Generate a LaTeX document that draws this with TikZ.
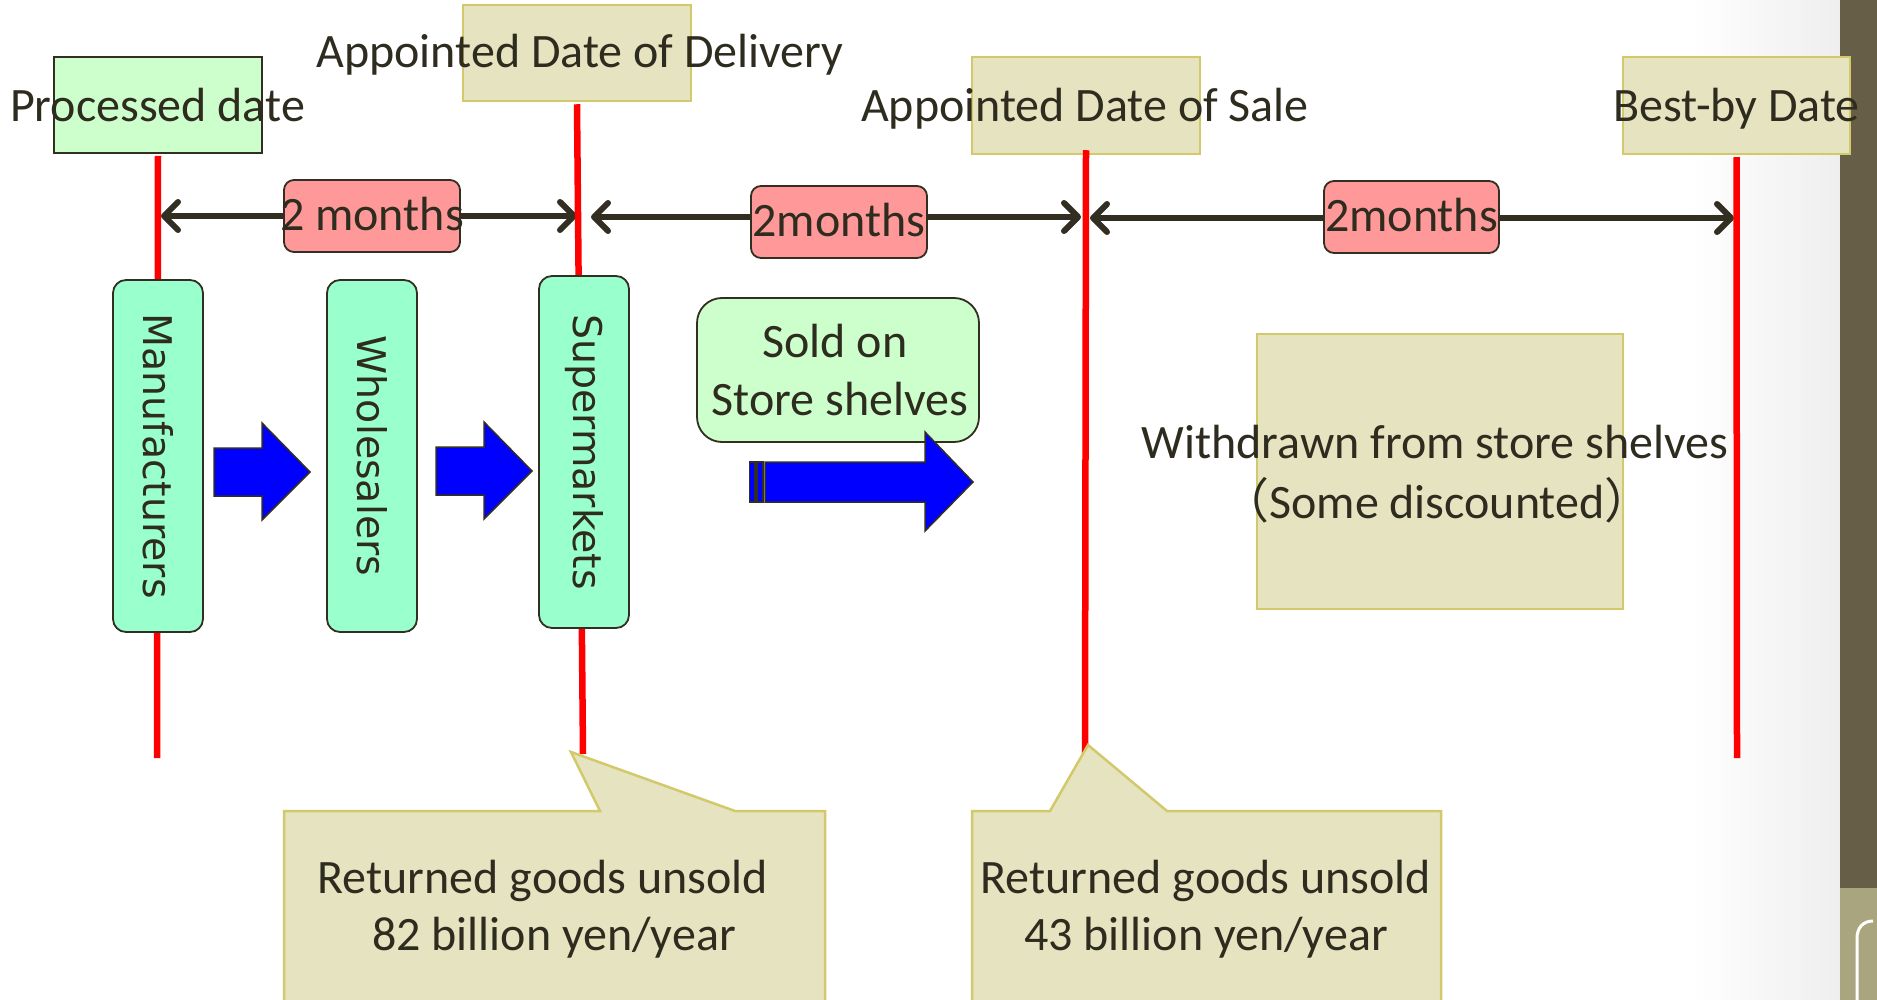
\documentclass[tikz,border=0pt]{standalone}
\usepackage{fontspec}
\setmainfont{Carlito}
\newfontfamily\vfont{DejaVu Sans}
\newfontfamily\cjk{Noto Sans CJK JP}
\usetikzlibrary{arrows.meta}
\definecolor{txt}{RGB}{46,43,31}
\definecolor{dk}{RGB}{51,46,34}
\definecolor{palegreen}{HTML}{CCFFCC}
\definecolor{mint}{HTML}{99FFCC}
\definecolor{pinkc}{HTML}{FF9999}
\definecolor{khaki}{HTML}{E6E3C1}
\definecolor{khakiborder}{HTML}{D3C96B}
\definecolor{barc}{HTML}{675E47}
\definecolor{barlight}{HTML}{A9A67F}
\definecolor{greyb}{HTML}{EEEEEE}
\tikzset{
  lbl/.style={text=txt, font=\fontsize{48}{58}\selectfont, inner sep=0pt, anchor=base},
  datebox/.style={draw=khakiborder, fill=khaki, line width=2.5pt, inner sep=0pt},
  procbox/.style={draw=dk, fill=palegreen, line width=1.8pt, inner sep=0pt},
  pinkbox/.style={draw=dk, fill=pinkc, line width=1.8pt, rounded corners=10pt, inner sep=0pt},
  vbox/.style={draw=dk, fill=mint, line width=1.8pt, rounded corners=13pt, inner sep=0pt},
  vtext/.style={text=txt, font=\vfont\fontsize{39.5}{47}\selectfont, rotate=-90, inner sep=0pt},
  soldbox/.style={draw=dk, fill=palegreen, line width=1.8pt, rounded corners=25pt, inner sep=0pt},
  redline/.style={draw=red, line width=6.5pt},
  dblarrow/.style={draw=dk, line width=6pt, {Straight Barb[length=14pt,width=28pt,round]}-{Straight Barb[length=14pt,width=28pt,round]}},
  bluearrow/.style={fill=blue, draw=dk, line width=1.5pt, line join=miter},
  callout/.style={fill=khaki, draw=khakiborder, line width=2.5pt}
}
\begin{document}
\begin{tikzpicture}[x=1pt,y=-1pt]
\useasboundingbox (0,0) rectangle (1877,1000);
\clip (0,0) rectangle (1877,1000);
% background
\fill[white] (0,0) rectangle (1877,1000);
\shade[left color=white, right color=greyb] (1690,0) rectangle (1841,1000);
\fill[barc] (1840,0) rectangle (1877,888);
\fill[barlight] (1840,888) rectangle (1877,1000);
\draw[white, line width=3pt] (1873,921) .. controls (1863,921) and (1857,928) .. (1857,938) -- (1857,1005);

% coordinates
\coordinate (r1b) at (157,758);
\coordinate (r2b) at (583,754);
\coordinate (r3b) at (1085,754);
\coordinate (r4b) at (1737,758);
\coordinate (a1l) at (161,216);
\coordinate (a1r) at (577,216);
\coordinate (a2l) at (591,217);
\coordinate (a2r) at (1081,217);
\coordinate (a3l) at (1090,218);
\coordinate (a3r) at (1734,218);

% double arrows
\draw[dblarrow] (a1l) -- (a1r);
\draw[dblarrow] (a2l) -- (a2r);
\draw[dblarrow] (a3l) -- (a3r);

% date boxes
\node[procbox, minimum width=208pt, minimum height=96pt] (proc) at (158,105) {};
\node[datebox, minimum width=228pt, minimum height=96pt] (deliv) at (577,53) {};
\node[datebox, minimum width=228pt, minimum height=97pt] (sale) at (1086,105.5) {};
\node[datebox, minimum width=227pt, minimum height=97pt] (best) at (1736.5,105.5) {};

% red lines
\draw[redline] ([yshift=-2pt]proc.south) -- (r1b);
\draw[redline] ([yshift=-2pt]deliv.south) -- (r2b);
\draw[redline] ([yshift=5pt]sale.south) -- (r3b);
\draw[redline] ([yshift=-2pt]best.south) -- (r4b);

% date labels
\node[lbl] (tproc) at (157.5,122) {Processed date};
\node[lbl] (tdeliv) at (580,68) {Appointed Date of Delivery};
\node[lbl] (tsale) at (1085,122) {Appointed Date of Sale};
\node[lbl] (tbest) at (1736.5,122) {Best-by Date};

% period labels
\node[pinkbox, minimum width=176pt, minimum height=72pt] (p1) at (372,216) {};
\node[pinkbox, minimum width=176pt, minimum height=72pt] (p2) at (839,222) {};
\node[pinkbox, minimum width=175pt, minimum height=72pt] (p3) at (1411.5,217) {};
\node[lbl] (tp1) at (372,231) {2 months};
\node[lbl] (tp2) at (839,237) {2months};
\node[lbl] (tp3) at (1411.5,232) {2months};

% vertical boxes
\node[vbox, minimum width=90pt, minimum height=352pt] (manu) at (158,456) {};
\node[vbox, minimum width=90pt, minimum height=352pt] (whole) at (372,456) {};
\node[vbox, minimum width=90pt, minimum height=352pt] (super) at (584,452) {};
\node[vtext] (tmanu) at (158,456) {Manufacturers};
\node[vtext] (twhole) at (372,456) {Wholesalers};
\node[vtext] (tsuper) at (584,452) {Supermarkets};

% blue block arrows
\draw[bluearrow] (214,448) -- (262,448) -- (262,423) -- (310,472) -- (262,520) -- (262,496) -- (214,496) -- cycle;
\draw[bluearrow] (436,447) -- (484,447) -- (484,422) -- (532,471) -- (484,519) -- (484,495) -- (436,495) -- cycle;

% sold box
\node[soldbox, minimum width=282pt, minimum height=144pt] (sold) at (838,370) {};
\node[lbl] (tsold1) at (835,357) {Sold on};
\node[lbl] (tsold2) at (840,415) {Store shelves};

% big striped arrow
\draw[bluearrow] (749.5,462) rectangle (755,502);
\draw[bluearrow] (757,462) rectangle (763,502);
\draw[bluearrow] (765,462) -- (925,462) -- (925,432) -- (973,482) -- (925,531) -- (925,502) -- (765,502) -- cycle;

% withdrawn box
\node[datebox, minimum width=366pt, minimum height=275pt] (withd) at (1440,471.5) {};
\node[lbl] (tw1) at (1435,458) {Withdrawn from store shelves};
\node[lbl] (tw2) at (1437,518) {{\cjk （}Some discounted{\cjk ）}};

% callouts
\draw[callout] (284,1010) -- (284,811) -- (600,811) -- (571,752) -- (735,811) -- (825,811) -- (825,1010) -- cycle;
\draw[callout] (972,1010) -- (972,811) -- (1050,811) -- (1088,745) -- (1167,811) -- (1441,811) -- (1441,1010) -- cycle;
\node[lbl] (tc1a) at (543,893) {Returned goods unsold};
\node[lbl] (tc1b) at (554,950) {82 billion yen/year};
\node[lbl] (tc2a) at (1206,893) {Returned goods unsold};
\node[lbl] (tc2b) at (1206,950) {43 billion yen/year};
\end{tikzpicture}
\end{document}
